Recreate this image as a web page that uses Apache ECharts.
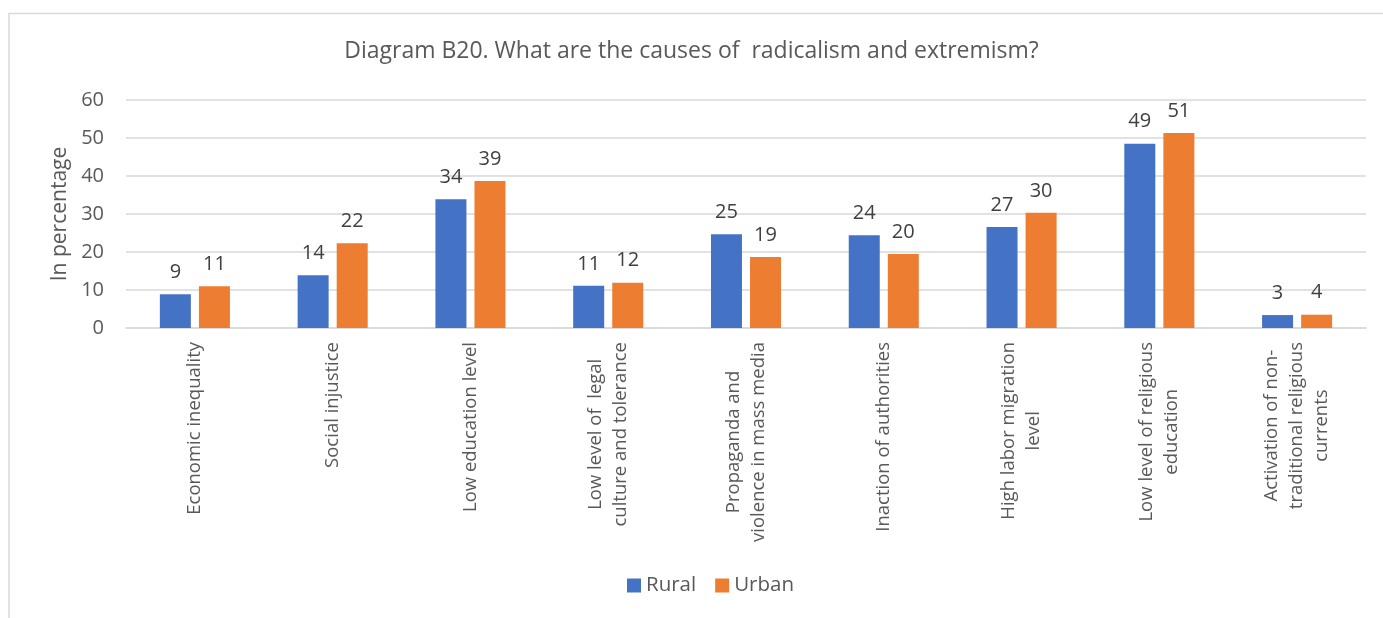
<!DOCTYPE html>
<html>
<head>
<meta charset="utf-8">
<script src="https://cdn.jsdelivr.net/npm/echarts@6/dist/echarts.min.js"></script>
<style>
html,body{margin:0;padding:0;background:#fff;}
#c{width:1383px;height:618px;}
</style>
</head>
<body>
<div id="c"></div>
<script>
const categories = [
  "Economic inequality",
  "Social injustice",
  "Low education level",
  "Low level of  legal\nculture and tolerance",
  "Propaganda and\nviolence in mass media",
  "Inaction of authorities",
  "High labor migration\nlevel",
  "Low level of religious\neducation",
  "Activation of non-\ntraditional religious\ncurrents"
];
const rural = [8.9, 13.9, 33.9, 11.1, 24.7, 24.4, 26.6, 48.5, 3.4];
const urban = [11.0, 22.3, 38.7, 11.9, 18.7, 19.5, 30.3, 51.3, 3.5];
const seriesNames = ["Rural", "Urban"];
const yTicks = [0, 10, 20, 30, 40, 50, 60];

const FONT = "Open Sans";
const TXT = "#595959";
const chart = echarts.init(document.getElementById('c'), null, {renderer: 'canvas'});
const labelCfg = {
  show: true, position: 'top', distance: 12,
  color: '#404040', fontFamily: FONT, fontSize: 20,
  formatter: p => Math.round(p.value)
};
chart.setOption({
  animation: false,
  backgroundColor: '#fff',
  graphic: [{
    type: 'rect', shape: {x: 9, y: 13.5, width: 1400, height: 700},
    style: {fill: 'none', stroke: '#D9D9D9', lineWidth: 1.5}, silent: true
  }],
  title: {
    text: "Diagram B20. What are the causes of  radicalism and extremism?",
    left: 'center', top: 35,
    textStyle: {color: TXT, fontFamily: FONT, fontSize: 23, fontWeight: 'normal'}
  },
  legend: {
    data: seriesNames, bottom: 17, left: 622,
    itemWidth: 14, itemHeight: 14, itemGap: 19,
    icon: 'rect',
    textStyle: {color: TXT, fontFamily: FONT, fontSize: 20.5}
  },
  grid: {left: 126, right: 17, top: 100, bottom: 290},
  xAxis: {
    type: 'category', data: categories,
    axisLine: {lineStyle: {color: '#D9D9D9', width: 1.5}},
    axisTick: {show: false},
    axisLabel: {
      interval: 0, rotate: 90, margin: 14,
      color: TXT, fontFamily: FONT, fontSize: 18.5, lineHeight: 25,
      formatter: v => v.split('\n').map(s => '{c|' + s + '}').join('\n'),
      rich: {c: {align: 'center', color: TXT, fontFamily: FONT, fontSize: 18.5, lineHeight: 25}}
    }
  },
  yAxis: {
    type: 'value', min: 0, max: 60, interval: 10,
    name: 'In percentage', nameLocation: 'middle', nameGap: 54,
    nameTextStyle: {color: TXT, fontFamily: FONT, fontSize: 21},
    axisLine: {show: false}, axisTick: {show: false},
    axisLabel: {color: TXT, fontFamily: FONT, fontSize: 20, margin: 22,
      formatter: v => yTicks.includes(v) ? String(v) : ''},
    splitLine: {lineStyle: {color: '#D9D9D9', width: 1.5}}
  },
  series: [
    {name: seriesNames[0], type: 'bar', data: rural, barWidth: 31, barGap: '26%',
     itemStyle: {color: '#4472C4'}, label: labelCfg},
    {name: seriesNames[1], type: 'bar', data: urban, barWidth: 31,
     itemStyle: {color: '#ED7D31'}, label: labelCfg}
  ]
});
</script>
</body>
</html>
